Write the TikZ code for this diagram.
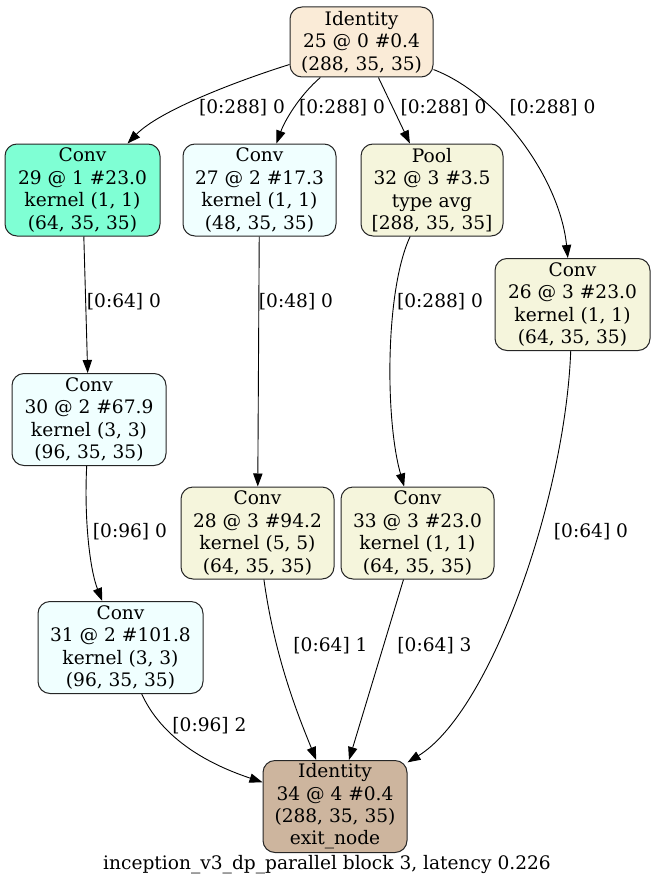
\documentclass[tikz,border=0pt]{standalone}
\usepackage{fontspec}
\setmainfont{DejaVu Serif}
\usepackage{xcolor}
\definecolor{op-antique}{HTML}{FAEBD7}
\definecolor{op-aqua}{HTML}{7FFFD4}
\definecolor{op-azure}{HTML}{F0FFFF}
\definecolor{op-beige}{HTML}{F5F5DC}
\definecolor{op-tan}{HTML}{CDB59E}
\usepackage{tikz}
\usetikzlibrary{arrows.meta}

\begin{document}
\begin{tikzpicture}[x=1pt,y=-1pt,
    op/.style={draw=black!85, line width=1pt, rounded corners=12pt, align=center,
      inner sep=0pt, minimum height=92pt, font=\fontsize{18.6}{22.4}\selectfont},
    lbl/.style={inner sep=0pt, font=\fontsize{18.6}{22.4}\selectfont},
    edge/.style={-{Triangle[length=13pt,width=9.3pt]}, line width=0.9pt}]

    % Page frame
    \useasboundingbox (0,0) rectangle (655,888);

  % Operators
  \node[op, fill=op-antique, minimum width=143pt, minimum height=70pt] (id25) at (361.5,42)
    {Identity\\25 @ 0 \#0.4\\(288, 35, 35)};
  \node[op, fill=op-aqua, minimum width=155pt] (conv29) at (82.5,190)
    {Conv\\29 @ 1 \#23.0\\kernel (1, 1)\\(64, 35, 35)};
  \node[op, fill=op-azure, minimum width=153pt] (conv27) at (259.5,190)
    {Conv\\27 @ 2 \#17.3\\kernel (1, 1)\\(48, 35, 35)};
  \node[op, fill=op-beige, minimum width=142pt] (pool32) at (432,190)
    {Pool\\32 @ 3 \#3.5\\type avg\\{[288, 35, 35]}};
  \node[op, fill=op-beige, minimum width=155pt] (conv26) at (572.5,304.5)
    {Conv\\26 @ 3 \#23.0\\kernel (1, 1)\\(64, 35, 35)};
  \node[op, fill=op-azure, minimum width=154pt] (conv30) at (89,419.5)
    {Conv\\30 @ 2 \#67.9\\kernel (3, 3)\\(96, 35, 35)};
  \node[op, fill=op-beige, minimum width=153pt] (conv28) at (257.5,533)
    {Conv\\28 @ 3 \#94.2\\kernel (5, 5)\\(64, 35, 35)};
  \node[op, fill=op-beige, minimum width=153pt] (conv33) at (417.5,533)
    {Conv\\33 @ 3 \#23.0\\kernel (1, 1)\\(64, 35, 35)};
  \node[op, fill=op-azure, minimum width=165pt] (conv31) at (120.5,647.5)
    {Conv\\31 @ 2 \#101.8\\kernel (3, 3)\\(96, 35, 35)};
  \node[op, fill=op-tan, minimum width=144pt] (id34) at (335,806.5)
    {Identity\\34 @ 4 \#0.4\\(288, 35, 35)\\exit\_node};

  % Edges out of the entry node
  \draw[edge] (id25) .. controls (240,80) and (160,110) .. (conv29);
  \draw[edge] (id25) .. controls (300,95) and (285,120) .. (conv27);
  \draw[edge] (id25) -- (pool32);
  \draw[edge] (id25) .. controls (500,95) and (560,180) .. (conv26);

  % Inner edges
  \draw[edge] (conv29) -- (conv30);
  \draw[edge] (conv27) -- (conv28);
  \draw[edge] (pool32) .. controls (385,290) and (385,420) .. (conv33);
  \draw[edge] (conv30) .. controls (84,520) and (90,570) .. (conv31);

  % Edges into the exit node
  \draw[edge] (conv26) .. controls (565,500) and (490,712) .. (id34);
  \draw[edge] (conv28) .. controls (275,660) and (300,720) .. (id34);
  \draw[edge] (conv33) -- (id34);
  \draw[edge] (conv31) .. controls (165,745) and (220,768) .. (id34);

  % Edge labels
  \node[lbl] (l25to29) at (242,108) {[0:288] 0};
  \node[lbl] (l25to27) at (342,108) {[0:288] 0};
  \node[lbl] (l25to32) at (443.5,108) {[0:288] 0};
  \node[lbl] (l25to26) at (552.5,108) {[0:288] 0};
  \node[lbl] (l29to30) at (124,302) {[0:64] 0};
  \node[lbl] (l27to28) at (296,302) {[0:48] 0};
  \node[lbl] (l32to33) at (440,302) {[0:288] 0};
  \node[lbl] (l30to31) at (130,532) {[0:96] 0};
  \node[lbl] (l26to34) at (591,532) {[0:64] 0};
  \node[lbl] (l28to34) at (330.5,646) {[0:64] 1};
  \node[lbl] (l33to34) at (434.5,646) {[0:64] 3};
  \node[lbl] (l31to34) at (209.5,726) {[0:96] 2};

  % Caption
  \node[lbl] (caption) at (327,865) {inception\_v3\_dp\_parallel block 3, latency 0.226};

\end{tikzpicture}
\end{document}
